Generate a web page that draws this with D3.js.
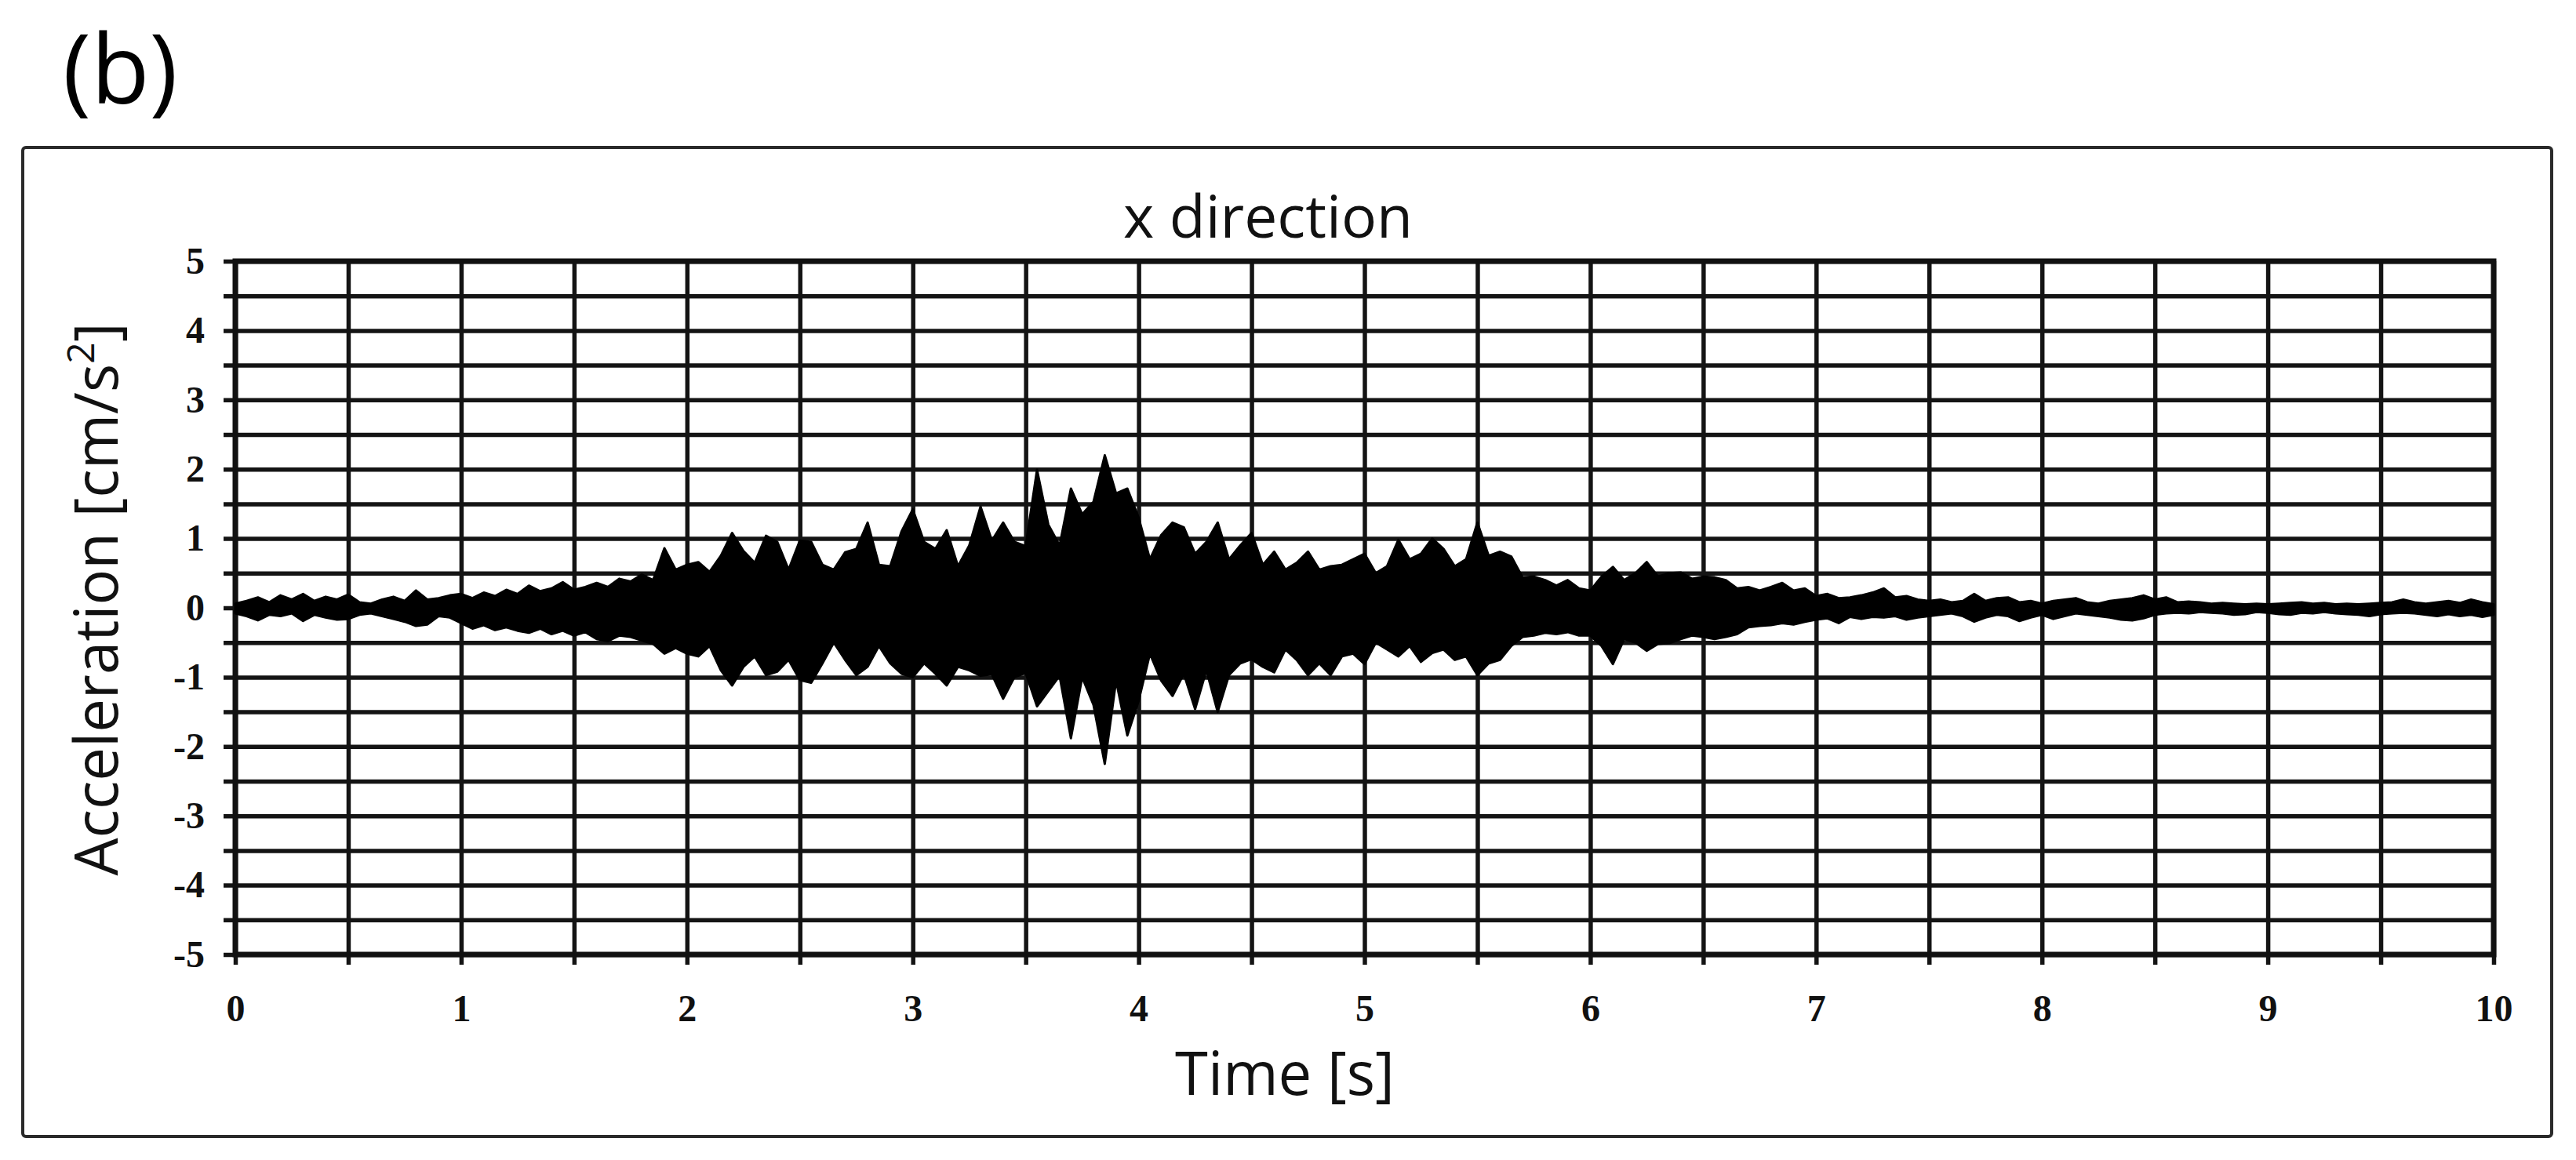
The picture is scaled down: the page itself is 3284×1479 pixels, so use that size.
<!DOCTYPE html>
<html>
<head>
<meta charset="utf-8">
<script src="https://cdn.jsdelivr.net/npm/d3@7"></script>
<style>
  body { margin: 0; background: #fff; }
</style>
</head>
<body>
<div id="chart"></div>
<script>
// Data: envelope of the x-direction record, sampled every 0.05 s from 0 to 10 s
var time_step = 0.05;

var upper = [
  // 0.00 - 0.95
  0.06, 0.10, 0.15, 0.08, 0.18, 0.12, 0.20, 0.10, 0.16, 0.12, 0.19, 0.08, 0.06, 0.12, 0.16, 0.10, 0.25, 0.12, 0.14, 0.18,
  // 1.00 - 1.95
  0.20, 0.14, 0.22, 0.17, 0.26, 0.20, 0.32, 0.24, 0.28, 0.37, 0.26, 0.30, 0.36, 0.30, 0.42, 0.38, 0.48, 0.40, 0.86, 0.55,
  // 2.00 - 2.95
  0.62, 0.66, 0.52, 0.75, 1.08, 0.82, 0.65, 1.04, 0.95, 0.55, 0.97, 0.95, 0.62, 0.55, 0.80, 0.85, 1.23, 0.62, 0.60, 1.10,
  // 3.00 - 3.95
  1.42, 0.95, 0.85, 1.12, 0.60, 0.90, 1.46, 0.97, 1.23, 0.95, 0.89, 1.99, 1.20, 0.90, 1.72, 1.35, 1.53, 2.20, 1.65, 1.72,
  // 4.00 - 4.95
  1.30, 0.70, 1.05, 1.23, 1.16, 0.78, 0.95, 1.23, 0.70, 0.90, 1.08, 0.62, 0.81, 0.55, 0.65, 0.81, 0.55, 0.60, 0.62, 0.70,
  // 5.00 - 5.95
  0.78, 0.50, 0.60, 0.98, 0.70, 0.78, 1.00, 0.85, 0.60, 0.70, 1.23, 0.75, 0.81, 0.74, 0.44, 0.45, 0.40, 0.32, 0.40, 0.28,
  // 6.00 - 6.95
  0.25, 0.45, 0.59, 0.40, 0.50, 0.66, 0.45, 0.50, 0.51, 0.42, 0.45, 0.44, 0.40, 0.28, 0.30, 0.25, 0.30, 0.36, 0.25, 0.28,
  // 7.00 - 7.95
  0.17, 0.20, 0.14, 0.15, 0.18, 0.22, 0.28, 0.15, 0.17, 0.12, 0.10, 0.12, 0.08, 0.10, 0.20, 0.10, 0.14, 0.15, 0.08, 0.10,
  // 8.00 - 8.95
  0.06, 0.10, 0.12, 0.14, 0.08, 0.06, 0.10, 0.12, 0.14, 0.18, 0.12, 0.15, 0.08, 0.09, 0.08, 0.06, 0.07, 0.06, 0.05, 0.06,
  // 9.00 - 10.00
  0.05, 0.06, 0.07, 0.08, 0.06, 0.07, 0.05, 0.06, 0.05, 0.06, 0.07, 0.08, 0.12, 0.08, 0.06, 0.08, 0.10, 0.07, 0.12, 0.08, 0.05
];

var lower = [
  // 0.00 - 0.95
  -0.08, -0.12, -0.18, -0.10, -0.12, -0.08, -0.19, -0.10, -0.14, -0.17, -0.16, -0.10, -0.08, -0.12, -0.16, -0.20, -0.26, -0.24, -0.12, -0.14,
  // 1.00 - 1.95
  -0.22, -0.30, -0.25, -0.32, -0.28, -0.33, -0.36, -0.30, -0.38, -0.33, -0.40, -0.35, -0.45, -0.48, -0.40, -0.42, -0.47, -0.52, -0.66, -0.58,
  // 2.00 - 2.95
  -0.66, -0.70, -0.55, -0.90, -1.12, -0.85, -0.70, -0.97, -0.92, -0.75, -1.04, -1.08, -0.80, -0.50, -0.75, -0.97, -0.85, -0.55, -0.80, -0.95,
  // 3.00 - 3.95
  -1.00, -0.80, -0.95, -1.12, -0.85, -0.90, -0.98, -0.96, -1.31, -1.00, -0.94, -1.42, -1.20, -0.98, -1.88, -1.00, -1.40, -2.25, -1.05, -1.84,
  // 4.00 - 4.95
  -1.34, -0.66, -1.05, -1.27, -0.95, -1.46, -0.90, -1.50, -0.97, -0.80, -0.74, -0.85, -0.93, -0.60, -0.75, -0.97, -0.80, -0.97, -0.70, -0.66,
  // 5.00 - 5.95
  -0.81, -0.50, -0.60, -0.70, -0.55, -0.78, -0.65, -0.60, -0.75, -0.70, -0.97, -0.80, -0.75, -0.55, -0.42, -0.40, -0.36, -0.38, -0.35, -0.40,
  // 6.00 - 6.95
  -0.40, -0.55, -0.81, -0.45, -0.50, -0.62, -0.52, -0.51, -0.45, -0.40, -0.42, -0.45, -0.42, -0.38, -0.28, -0.26, -0.25, -0.22, -0.24, -0.20,
  // 7.00 - 7.95
  -0.17, -0.15, -0.22, -0.13, -0.16, -0.13, -0.14, -0.12, -0.17, -0.14, -0.12, -0.10, -0.08, -0.12, -0.20, -0.14, -0.10, -0.12, -0.19, -0.14,
  // 8.00 - 8.95
  -0.10, -0.16, -0.12, -0.08, -0.10, -0.12, -0.14, -0.17, -0.18, -0.15, -0.10, -0.08, -0.07, -0.08, -0.06, -0.07, -0.08, -0.10, -0.09, -0.06,
  // 9.00 - 10.00
  -0.07, -0.09, -0.10, -0.07, -0.08, -0.06, -0.08, -0.09, -0.10, -0.12, -0.09, -0.08, -0.07, -0.08, -0.10, -0.12, -0.09, -0.12, -0.10, -0.13, -0.10
];

// Axis ticks (grid every 0.5, labels on whole numbers)
var x_ticks = [0, 0.5, 1, 1.5, 2, 2.5, 3, 3.5, 4, 4.5, 5, 5.5, 6, 6.5, 7, 7.5, 8, 8.5, 9, 9.5, 10];
var y_ticks = [-5, -4.5, -4, -3.5, -3, -2.5, -2, -1.5, -1, -0.5, 0, 0.5, 1, 1.5, 2, 2.5, 3, 3.5, 4, 4.5, 5];

var chart_width  = 3284;
var chart_height = 1479;

var plot = { left: 300, right: 3179, top: 333, bottom: 1217 };

var x = d3.scaleLinear().domain([0, 10]).range([plot.left, plot.right]);
var y = d3.scaleLinear().domain([-5, 5]).range([plot.bottom, plot.top]);

var svg = d3.select('#chart')
            .append('svg')
            .attr('width', chart_width)
            .attr('height', chart_height)
            .style('display', 'block');

svg.append('rect')
   .attr('width', chart_width)
   .attr('height', chart_height)
   .attr('fill', '#fff');

// Outer frame
svg.append('rect')
   .attr('x', 29)
   .attr('y', 188)
   .attr('width', 3224)
   .attr('height', 1261)
   .attr('rx', 4)
   .attr('fill', 'none')
   .attr('stroke', '#2a2a2a')
   .attr('stroke-width', 4);

// Panel letter
svg.append('text')
   .attr('x', 80)
   .attr('y', 132)
   .attr('font-family', '"Open Sans", sans-serif')
   .attr('font-size', 122)
   .attr('fill', '#000')
   .text('(b)');

var label_fmt = function(d) {
  return Number.isInteger(d) ? String(d) : '';
};

// Horizontal grid + y labels
var y_axis = d3.axisLeft(y)
               .tickValues(y_ticks)
               .tickSize(plot.right - plot.left + 15)
               .tickPadding(24)
               .tickFormat(label_fmt);

var gy = svg.append('g')
            .attr('transform', 'translate(' + plot.right + ',0)')
            .call(y_axis);

// Vertical grid + x labels
var x_axis = d3.axisBottom(x)
               .tickValues(x_ticks)
               .tickSize(plot.bottom - plot.top + 13)
               .tickPadding(38)
               .tickFormat(label_fmt);

var gx = svg.append('g')
            .attr('transform', 'translate(0,' + plot.top + ')')
            .call(x_axis);

[gx, gy].forEach(function(g) {
  g.select('.domain').remove();
  g.selectAll('.tick line')
   .attr('stroke', '#141414')
   .attr('stroke-width', 5.5);
  g.selectAll('.tick text')
   .attr('fill', '#111')
   .attr('font-family', '"Liberation Serif", "Times New Roman", serif')
   .attr('font-weight', 'bold')
   .attr('font-size', 48);
});

// Plot border
svg.append('rect')
   .attr('x', plot.left)
   .attr('y', plot.top)
   .attr('width', plot.right - plot.left)
   .attr('height', plot.bottom - plot.top)
   .attr('fill', 'none')
   .attr('stroke', '#111')
   .attr('stroke-width', 7);

// Waveform envelope
var wave = upper.map(function(u, i) {
  return { t: i * time_step, hi: u, lo: lower[i] };
});

var area = d3.area()
             .x(function(d) { return x(d.t); })
             .y0(function(d) { return y(d.lo); })
             .y1(function(d) { return y(d.hi); });

svg.append('path')
   .datum(wave)
   .attr('d', area)
   .attr('fill', '#000')
   .attr('stroke', '#000')
   .attr('stroke-width', 3)
   .attr('stroke-linejoin', 'round');

// Titles
var sans = '"Open Sans", sans-serif';

svg.append('text')
   .attr('x', 1432)
   .attr('y', 303)
   .attr('font-family', sans)
   .attr('font-size', 75)
   .attr('fill', '#111')
   .text('x direction');

svg.append('text')
   .attr('x', 1638)
   .attr('y', 1396)
   .attr('text-anchor', 'middle')
   .attr('font-family', sans)
   .attr('font-size', 76)
   .attr('fill', '#111')
   .text('Time [s]');

var ylab = svg.append('text')
   .attr('transform', 'translate(150,764) rotate(-90)')
   .attr('text-anchor', 'middle')
   .attr('font-family', sans)
   .attr('font-size', 76)
   .attr('fill', '#111');

ylab.append('tspan').text('Acceleration [cm/s');
ylab.append('tspan').attr('font-size', 48).attr('dy', -30).text('2');
ylab.append('tspan').attr('dy', 30).text(']');
</script>
</body>
</html>
